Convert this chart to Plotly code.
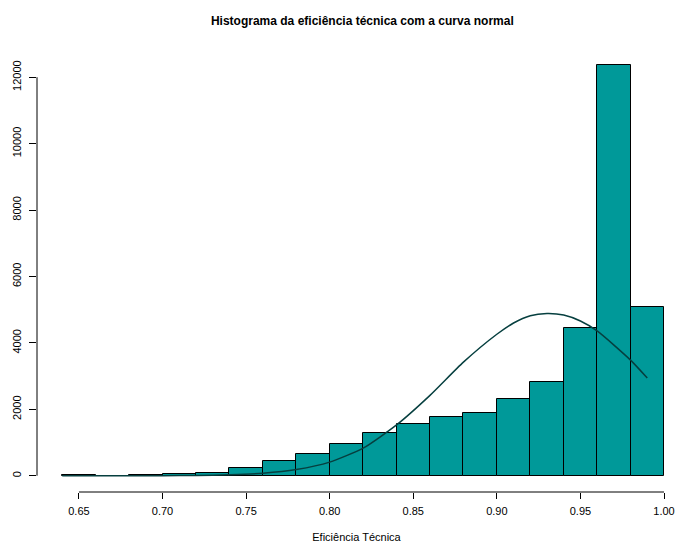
import plotly.graph_objects as go

# Histogram bins (left edges, width 0.02) and counts
bin_left = [0.64, 0.66, 0.68, 0.70, 0.72, 0.74, 0.76, 0.78, 0.80,
            0.82, 0.84, 0.86, 0.88, 0.90, 0.92, 0.94, 0.96, 0.98]
counts = [10, 5, 10, 50, 90, 220, 450, 650, 970,
          1285, 1565, 1765, 1885, 2300, 2835, 4440, 12360, 5090]
bin_width = 0.02

# Normal curve points
curve_x = [0.64, 0.66, 0.68, 0.70, 0.72, 0.74, 0.76, 0.78, 0.80, 0.82,
           0.84, 0.86, 0.88, 0.90, 0.91, 0.92, 0.93, 0.94, 0.95, 0.96, 0.98, 0.99]
curve_y = [0, 0, 1, 2, 8, 26, 73, 185, 410, 830,
           1530, 2420, 3420, 4260, 4600, 4820, 4885, 4840, 4660, 4360, 3480, 2940]

x_ticks = [0.65, 0.70, 0.75, 0.80, 0.85, 0.90, 0.95, 1.00]
y_ticks = [0, 2000, 4000, 6000, 8000, 10000, 12000]

centers = [b + bin_width / 2 for b in bin_left]

FONT = "Liberation Sans, Arial, Helvetica, sans-serif"

fig = go.Figure()
fig.add_trace(go.Bar(
    x=centers, y=counts, width=[bin_width] * len(counts),
    marker=dict(color="#009999", line=dict(color="black", width=1)),
    showlegend=False, hoverinfo="skip"))
fig.add_trace(go.Scatter(
    x=curve_x, y=curve_y, mode="lines",
    line=dict(color="#063f3f", width=1.5, shape="spline", smoothing=0.6),
    showlegend=False, hoverinfo="skip"))

# R-style axis lines spanning only the tick range
fig.add_shape(type="line", xref="x", yref="paper", x0=x_ticks[0], x1=x_ticks[-1],
              y0=0, y1=0, line=dict(color="black", width=1))
fig.add_shape(type="line", xref="paper", yref="y", x0=0, x1=0,
              y0=y_ticks[0], y1=y_ticks[-1], line=dict(color="black", width=1))

fig.update_layout(
    width=676, height=543,
    margin=dict(l=37, r=0, t=49, b=51, autoexpand=False),
    plot_bgcolor="white", paper_bgcolor="white",
    font=dict(family=FONT, size=11, color="black"),
    bargap=0,
    title=dict(text="<b>Histograma da eficiência técnica com a curva normal</b>",
               x=0.536, xanchor="center", y=0.962, yanchor="middle",
               font=dict(size=12, family=FONT)),
    xaxis=dict(range=[0.6249, 1.00718], tickvals=x_ticks,
               ticktext=["%.2f" % v for v in x_ticks],
               ticks="outside", ticklen=6, tickcolor="black",
               ticklabelstandoff=3, automargin=False,
               showgrid=False, zeroline=False, showline=False,
               title=dict(text="Eficiência Técnica", standoff=20,
                          font=dict(size=11))),
    yaxis=dict(range=[-490, 12850], tickvals=y_ticks,
               ticktext=[str(v) for v in y_ticks], tickangle=-90,
               ticks="outside", ticklen=7, tickcolor="black",
               ticklabelstandoff=4, automargin=False,
               showgrid=False, zeroline=False, showline=False),
)

fig.write_html("out.html")
